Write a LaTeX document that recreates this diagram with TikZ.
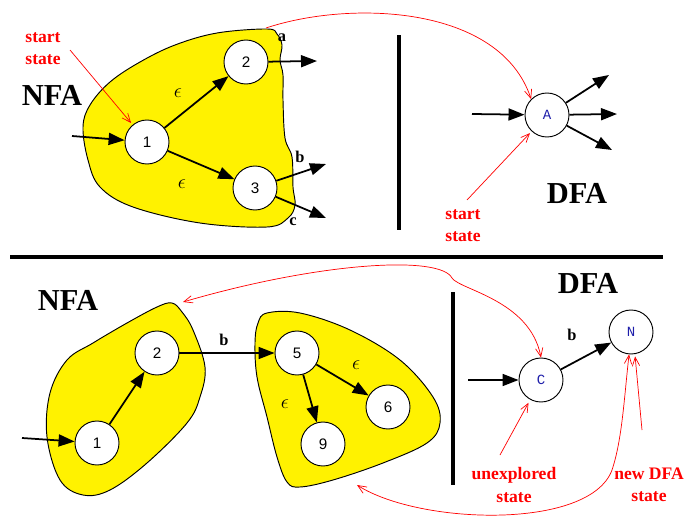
\documentclass[tikz,border=0pt]{standalone}
\usepackage{fontspec}
\setmainfont{Liberation Serif}
\setmonofont{Liberation Mono}
\newfontfamily\numfont{Liberation Sans}
\usepackage{tikz}
\usetikzlibrary{arrows.meta}

\definecolor{dfablue}{RGB}{30,30,170}

\begin{document}
\begin{tikzpicture}[
    x=0.3mm, y=-0.3mm,
    state/.style={circle, draw, line width=0.8pt, fill=white, minimum size=13.2mm,
    inner sep=0pt, font=\numfont\fontsize{13}{13}\selectfont},
    dstate/.style={state, text=dfablue, font=\ttfamily\fontsize{12}{12}\selectfont},
    edge/.style={-{Triangle[length=4.8mm,width=3.6mm]}, line width=1.5pt},
    note/.style={red, line width=0.6pt, -{Straight Barb[length=2.6mm,width=2.2mm]}},
    blob/.style={fill=yellow, draw, line width=0.8pt},
    title/.style={font=\bfseries\fontsize{26}{26}\selectfont},
    redlbl/.style={red, align=center, font=\bfseries\fontsize{15}{19}\selectfont},
    sym/.style={font=\bfseries\fontsize{14}{14}\selectfont},
    eps/.style={font=\fontsize{17}{17}\selectfont},
    rule/.style={line width=3pt}
]
\useasboundingbox (0,0) rectangle (686,517);

% ---- top: NFA start state -> DFA state A
\draw[blob] plot[smooth cycle, tension=0.6] coordinates {
    (217,33) (267,29) (277,34) (282,45) (280,60) (283,75) (283,100) (285,138)
    (292,157) (293,187) (295,205) (288,218) (267,227) (200,223) (133,207)
    (100,187) (88,160) (83,127) (90,105) (110,82) (140,62) (175,45)};
\coordinate (topblob) at (266,28);

\node[title] at (52,95) {NFA};
\node[state] (n1) at (147,142) {1};
\node[state] (n2) at (246,62) {2};
\node[state] (n3) at (255,188) {3};
\coordinate (in1) at (72,136);
\coordinate (out2) at (317,61);
\coordinate (out3b) at (326,164);
\coordinate (out3c) at (326,218);
\draw[edge] (in1) -- (n1);
\draw[edge] (n1) -- (n2);
\draw[edge] (n1) -- (n3);
\draw[edge] (n2) -- (out2);
\draw[edge] (n3) -- (out3b);
\draw[edge] (n3) -- (out3c);
\node[eps] at (178,93) {$\epsilon$};
\node[eps] at (182,184) {$\epsilon$};
\node[sym] at (282,38) {a};
\node[sym] at (300,157) {b};
\node[sym] at (293,222) {c};

\node[redlbl] (ss1) at (43,49) {start\\state};
\coordinate (ss1tail) at (70,50);
\draw[note, shorten >=2pt] (ss1tail) -- (n1);

\draw[rule] (399,35) -- (399,230);

\node[dstate] (dA) at (547,115) {A};
\coordinate (inA) at (472,114);
\coordinate (outA1) at (609,75);
\coordinate (outA2) at (617,114);
\coordinate (outA3) at (612,150);
\draw[edge] (inA) -- (dA);
\draw[edge] (dA) -- (outA1);
\draw[edge] (dA) -- (outA2);
\draw[edge] (dA) -- (outA3);
\node[title] at (577,193) {DFA};
\node[redlbl] at (463,226) {start\\state};
\coordinate (ss2tail) at (467,200);
\draw[note, shorten >=2pt] (ss2tail) -- (dA);
\draw[note] (topblob) .. controls (350,0) and (500,5) .. (dA.north west);

\draw[rule] (10,257) -- (663,257);

% ---- bottom: unexplored DFA state C, move on b
\draw[blob] plot[smooth cycle, tension=0.6] coordinates {
    (172,303) (182,312) (193,330) (205,367) (200,397) (187,423) (147,463)
    (110,490) (83,495) (60,480) (47,437) (50,393) (67,360) (93,343)
    (127,323) (157,307)};
\draw[blob] plot[smooth cycle, tension=0.6] coordinates {
    (267,313) (300,313) (350,330) (400,360) (433,397) (440,423) (427,443)
    (383,463) (333,480) (300,487) (287,482) (277,457) (267,417) (257,377)
    (255,343) (258,323)};
\coordinate (leftblob) at (183,302);
\coordinate (rightblob) at (357,485);

\node[title] at (68,300) {NFA};
\node[state] (m1) at (97,443) {1};
\node[state] (m2) at (157,353) {2};
\node[state] (m5) at (297,353) {5};
\node[state] (m6) at (388,407) {6};
\node[state] (m9) at (323,444) {9};
\coordinate (inm1) at (22,438);
\draw[edge] (inm1) -- (m1);
\draw[edge] (m1) -- (m2);
\draw[edge] (m2) -- (m5);
\draw[edge] (m5) -- (m6);
\draw[edge] (m5) -- (m9);
\node[sym] at (224,340) {b};
\node[eps] at (356,365) {$\epsilon$};
\node[eps] at (285,404) {$\epsilon$};

\draw[rule] (453,292) -- (453,485);

\node[title] at (588,283) {DFA};
\node[dstate] (dC) at (541,380) {C};
\node[dstate] (dN) at (631,332) {N};
\coordinate (inC) at (468,380);
\draw[edge] (inC) -- (dC);
\draw[edge] (dC) -- (dN);
\node[sym] at (572,335) {b};

\node[redlbl] at (514,485) {unexplored\\state};
\coordinate (unxtail) at (500,455);
\draw[note, shorten >=3pt] (unxtail) -- (dC);
\node[redlbl] at (649,485) {new DFA\\state};
\coordinate (newtail) at (642,430);
\draw[note, shorten >=2pt] (newtail) -- (dN.-80);

\draw[note, {Straight Barb[length=2.6mm,width=2.2mm]}-{Straight Barb[length=2.6mm,width=2.2mm]}]
    (leftblob) .. controls (320,262) and (440,255) .. (452,278)
    .. controls (460,290) and (530,300) .. (dC.north);
\draw[note, {Straight Barb[length=2.6mm,width=2.2mm]}-{Straight Barb[length=2.6mm,width=2.2mm]}]
    (rightblob) .. controls (420,525) and (590,530) .. (612,470)
    .. controls (622,440) and (624,400) .. (dN.-95);
\end{tikzpicture}
\end{document}
